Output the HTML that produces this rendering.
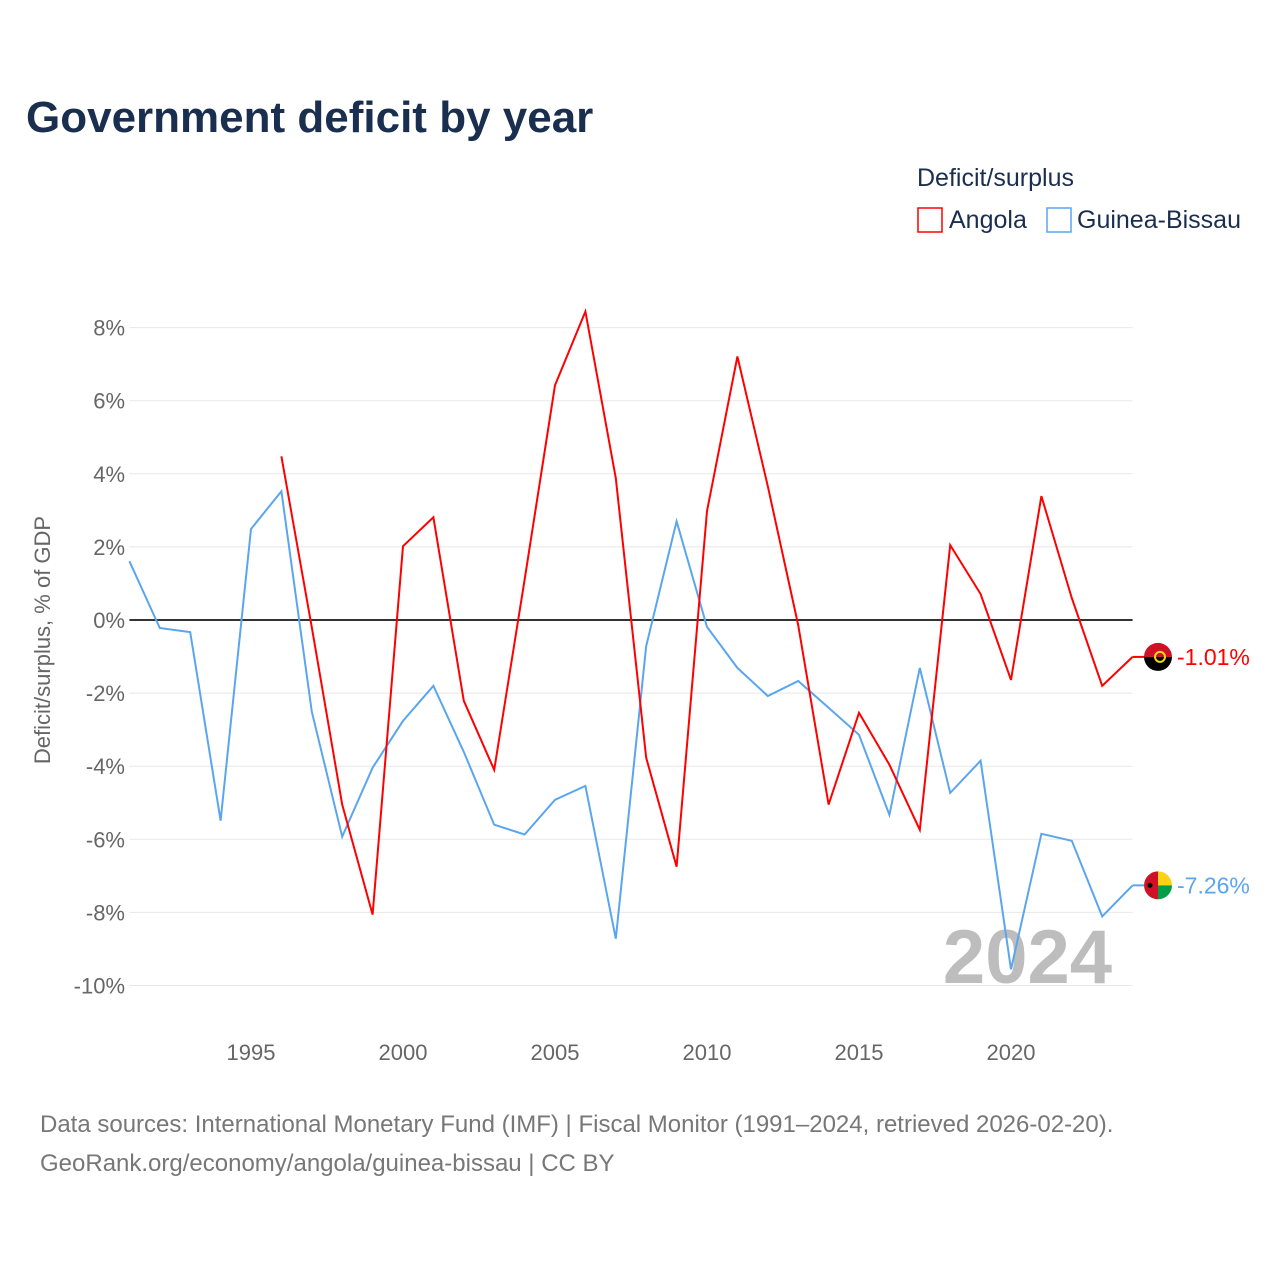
<!DOCTYPE html>
<html><head><meta charset="utf-8">
<style>
body{margin:0;background:#fff;font-family:"Liberation Sans",sans-serif;}
#wrap{position:relative;width:1280px;height:1280px;overflow:hidden;}
</style></head>
<body>
<div id="wrap">
<svg id="chart" width="1280" height="1280"></svg>
</div>
<script>
const years = [];
for (let y = 1991; y <= 2024; y++) years.push(y);
const angolaYears = [1996,1997,1998,1999,2000,2001,2002,2003,2004,2005,2006,2007,2008,2009,2010,2011,2012,2013,2014,2015,2016,2017,2018,2019,2020,2021,2022,2023,2024];
const angolaValues = [4.48,-0.2,-5.05,-8.06,2.02,2.81,-2.21,-4.1,1.1,6.42,8.44,3.88,-3.77,-6.75,2.98,7.21,3.66,-0.14,-5.05,-2.54,-3.96,-5.74,2.05,0.71,-1.64,3.39,0.6,-1.8,-1.01];
const gbValues = [1.61,-0.22,-0.33,-5.49,2.49,3.52,-2.51,-5.93,-4.04,-2.76,-1.8,-3.61,-5.6,-5.87,-4.92,-4.54,-8.72,-0.71,2.7,-0.19,-1.31,-2.08,-1.67,-2.4,-3.14,-5.33,-1.31,-4.73,-3.85,-9.56,-5.85,-6.04,-8.11,-7.26];
const yTicks = [8,6,4,2,0,-2,-4,-6,-8,-10];
const xTicks = [1995,2000,2005,2010,2015,2020];

const NS = "http://www.w3.org/2000/svg";
const svg = document.getElementById('chart');
const X0 = 129.4, X1 = 1132.6;
const xs = yr => X0 + (yr - 1991) * (X1 - X0) / 33;
const ys = v => 620 - v * 36.55;

function el(tag, attrs, parent) {
  const e = document.createElementNS(NS, tag);
  for (const k in attrs) e.setAttribute(k, attrs[k]);
  (parent || svg).appendChild(e);
  return e;
}
function txt(s, attrs) { const t = el('text', attrs); t.textContent = s; return t; }

let t;
t = txt('Government deficit by year', {x:26, y:132, 'font-size':44, 'font-weight':'bold', fill:'#1a2e4f'});



t = txt('Deficit/surplus', {x:917, y:186, 'font-size':25, fill:'#1a2e4f'});


const lg1 = el('g', {});


el('rect', {x:918, y:208, width:24, height:24, fill:'none', stroke:'#ff0000', 'stroke-width':1.5}, lg1);
const l1 = el('text', {x:949, y:228, 'font-size':25, fill:'#1a2e4f'}, lg1); l1.textContent = 'Angola';
const lg2 = el('g', {});


el('rect', {x:1047, y:208, width:24, height:24, fill:'none', stroke:'#5aa6ee', 'stroke-width':1.5}, lg2);
const l2 = el('text', {x:1077, y:228, 'font-size':25, fill:'#1a2e4f'}, lg2); l2.textContent = 'Guinea-Bissau';

yTicks.forEach(v => {
  const g = el('line', {x1:X0, x2:X1, y1:ys(v), y2:ys(v), stroke: v===0 ? '#333' : '#e8e8e8', 'stroke-width': v===0 ? 2 : 1});
  
  
  const lb = txt(v + '%', {x:125, y:ys(v)+8, 'font-size':22, fill:'#666', 'text-anchor':'end'});
  
  
});
xTicks.forEach(yr => {
  const lb = txt(String(yr), {x:xs(yr), y:1060, 'font-size':22, fill:'#666', 'text-anchor':'middle'});
  
  
});
t = txt('Deficit/surplus, % of GDP', {x:0, y:0, 'font-size':22, fill:'#666', 'text-anchor':'middle', transform:'translate(50,640) rotate(-90)'});



t = txt('2024', {x:1112, y:983, 'font-size':76, 'font-weight':'bold', fill:'#bdbdbd', 'text-anchor':'end'});



const gbPts = years.map((yr,i) => xs(yr).toFixed(1) + ',' + ys(gbValues[i]).toFixed(1)).join(' ');
const gbLine = el('polyline', {points:gbPts, fill:'none', stroke:'#5aa6ee', 'stroke-width':2});


const anPts = angolaYears.map((yr,i) => xs(yr).toFixed(1) + ',' + ys(angolaValues[i]).toFixed(1)).join(' ');
const anLine = el('polyline', {points:anPts, fill:'none', stroke:'#ff0000', 'stroke-width':2});



// end markers
const aLast = angolaValues[angolaValues.length-1], gLast = gbValues[gbValues.length-1];
const ay = ys(aLast), gy = ys(gLast);
const af = el('g', {});


el('line', {x1:X1, x2:1148, y1:ay, y2:ay, stroke:'#ff0000', 'stroke-width':2}, af);
el('path', {d:`M1144,${ay} a14,14 0 0 1 28,0 z`, fill:'#ce1126'}, af);
el('path', {d:`M1144,${ay} a14,14 0 0 0 28,0 z`, fill:'#000'}, af);
el('circle', {cx:1160, cy:ay, r:5, fill:'none', stroke:'#f9d616', 'stroke-width':2}, af);
t = txt(aLast.toFixed(2) + '%', {x:1177, y:ay+8, 'font-size':23, fill:'#ff0000'});



const gf = el('g', {});


el('line', {x1:X1, x2:1144, y1:gy, y2:gy, stroke:'#5aa6ee', 'stroke-width':2}, gf);
el('path', {d:`M1158,${gy-14} a14,14 0 0 0 0,28 z`, fill:'#ce1126'}, gf);
el('path', {d:`M1158,${gy-14} a14,14 0 0 1 14,14 h-14 z`, fill:'#fcd116'}, gf);
el('path', {d:`M1158,${gy+14} a14,14 0 0 0 14,-14 h-14 z`, fill:'#009e49'}, gf);
el('circle', {cx:1150, cy:gy, r:2.5, fill:'#000'}, gf);
t = txt(gLast.toFixed(2) + '%', {x:1177, y:gy+8, 'font-size':23, fill:'#5aa6ee'});



t = txt('Data sources: International Monetary Fund (IMF) | Fiscal Monitor (1991\u20132024, retrieved 2026-02-20).', {x:40, y:1132, 'font-size':24, fill:'#777'});


t = txt('GeoRank.org/economy/angola/guinea-bissau | CC BY', {x:40, y:1171, 'font-size':24, fill:'#777'});


</script>
</body></html>
